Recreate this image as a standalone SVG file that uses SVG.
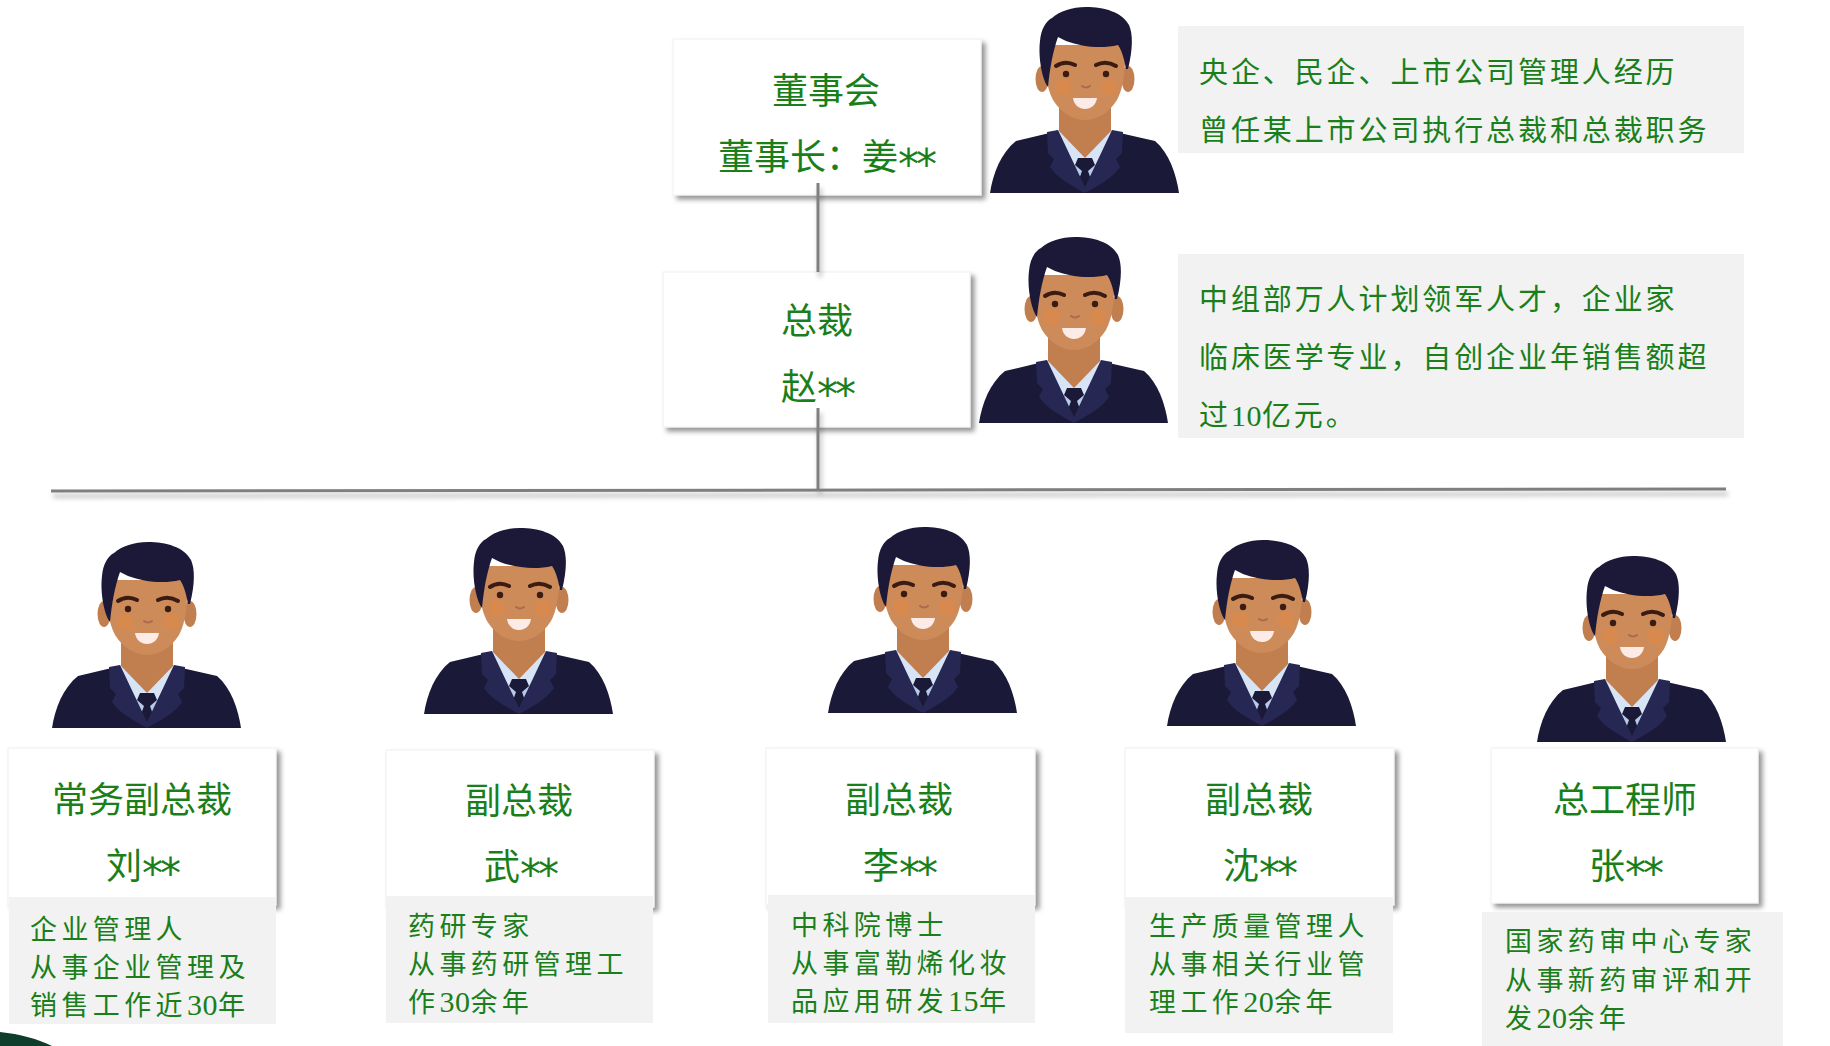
<svg xmlns="http://www.w3.org/2000/svg" xmlns:xlink="http://www.w3.org/1999/xlink" width="1830" height="1046" viewBox="0 0 1830 1046">
  <style>
    .card { fill: #ffffff; stroke: #f0f0f0; stroke-width: 1; filter: url(#cardShadow); }
    .note { fill: #f2f2f2; }
    .txt { font-family: 'Liberation Serif', 'Noto Sans CJK SC', serif; fill: #1a7f1a; }
    .title { font-size: 36px; text-anchor: middle; }
    .star { font-family: 'DejaVu Sans', sans-serif; font-size: 42px; letter-spacing: -3px; }
    .desc { font-size: 29px; letter-spacing: 2.9px; }
    .body { font-size: 27px; letter-spacing: 4.4px; }
    .num { font-size: 30px; letter-spacing: 0.5px; }
    .link { stroke: #7f7f7f; stroke-width: 3; fill: none; }
  </style>
  <defs>
    <filter id="cardShadow" x="-10%" y="-10%" width="125%" height="130%">
      <feDropShadow dx="4" dy="4" stdDeviation="2.5" flood-color="#000000" flood-opacity="0.42"/>
    </filter>
    <filter id="lineShadow" x="-5%" y="-5%" width="110%" height="110%">
      <feDropShadow dx="2" dy="5" stdDeviation="2.5" flood-color="#000000" flood-opacity="0.3"/>
    </filter>
    <!-- cartoon portrait of a man in a suit -->
    <symbol id="person" viewBox="0 0 190 186">
      <path fill="#1b1938" d="M0,186 C3,166 11,146 26,134 L68,124 L121,124 L165,134 C179,146 186,166 189,186 Z"/>
      <path fill="#d7e4f6" d="M66,123 L124,123 L95,182 Z"/>
      <path fill="#b7cae8" d="M83,158 L107,158 L95,182 Z"/>
      <path fill="#c17e4e" d="M69,86 L121,86 L121,124 L95,151 L69,124 Z"/>
      <path fill="#1b1938" d="M88,151 L102,151 L105,158 L98,164 L103,178 L95,186 L87,178 L92,164 L85,158 Z"/>
      <path fill="#262853" d="M57,125 L68,123 L95,180 L95,186 C84,180 70,172 64,165 L60,160 L64,152 L58,146 Z"/>
      <path fill="#262853" d="M133,125 L122,123 L95,180 L95,186 C106,180 120,172 126,165 L130,160 L126,152 L132,146 Z"/>
      <ellipse cx="52" cy="72" rx="6.5" ry="13" fill="#c17e4e"/>
      <ellipse cx="138" cy="72" rx="6.5" ry="13" fill="#c17e4e"/>
      <path fill="#cd8b5a" d="M55,38 C54,60 56,80 63,93 C71,106 83,113 95,113 C107,113 119,106 127,93 C134,80 136,60 135,38 Z"/>
      <path fill="#1b1838" d="M58,80 C52,72 48,50 50,34 C51,22 56,14 62,11 C70,4 82,0 96,0 C114,0 132,5 139,18 C143,27 143,42 138,62 L136,62 C134,50 131,42 128,38 C112,42 92,40 76,34 L68,30 C63,44 60,60 58,80 Z"/>
      <path d="M66,59 Q75,53 85,58 M106,58 Q116,53 126,59" stroke="#3a1c12" stroke-width="4" stroke-linecap="round" fill="none"/>
      <circle cx="76" cy="67" r="3.2" fill="#3a1c12"/>
      <circle cx="116" cy="67" r="3.2" fill="#3a1c12"/>
      <circle cx="73" cy="80" r="8.5" fill="#d9884c" opacity="0.85"/>
      <circle cx="119" cy="80" r="8.5" fill="#d9884c" opacity="0.85"/>
      <path d="M92,79 Q96,82 100,79" stroke="#a86a4c" stroke-width="2" fill="none" stroke-linecap="round"/>
      <path fill="#fcebe6" d="M83,91 L107,91 C106,98 101,102 95,102 C89,102 84,98 83,91 Z"/>
    </symbol>
  </defs>

  <rect width="1830" height="1046" fill="#ffffff"/>

  <!-- corner decoration -->
  <path d="M0,1032 C20,1034 38,1039 52,1046 L0,1046 Z" fill="#0e3d2b"/>

  <!-- board of directors -->
  <g id="board">
    <rect class="card" x="673" y="39" width="308" height="156"/>
    <text class="txt title" x="826" y="104">董事会</text>
    <text class="txt title" x="826" y="170">董事长：姜<tspan class="star" dy="9">**</tspan></text>
    <use href="#person" x="990" y="7" width="190" height="186"/>
    <rect class="note" x="1178" y="26" width="566" height="127"/>
    <text class="txt desc" x="1199" y="83">央企、民企、上市公司管理人经历</text>
    <text class="txt desc" x="1199" y="141">曾任某上市公司执行总裁和总裁职务</text>
  </g>

  <!-- president -->
  <g id="president">
    <rect class="card" x="663" y="272" width="307" height="155"/>
    <text class="txt title" x="817" y="334">总裁</text>
    <text class="txt title" x="817" y="400">赵<tspan class="star" dy="9">**</tspan></text>
    <use href="#person" x="979" y="237" width="190" height="186"/>
    <rect class="note" x="1178" y="254" width="566" height="184"/>
    <text class="txt desc" x="1199" y="310">中组部万人计划领军人才，企业家</text>
    <text class="txt desc" x="1199" y="368">临床医学专业，自创企业年销售额超</text>
    <text class="txt desc" x="1199" y="426">过<tspan class="num">10</tspan>亿元。</text>
  </g>

  <!-- executive vice president -->
  <g id="evp-liu">
    <use href="#person" x="52" y="542" width="190" height="186"/>
    <rect class="card" x="8" y="748" width="268" height="157"/>
    <rect class="note" x="9" y="897" width="267" height="127"/>
    <text class="txt title" x="142" y="813">常务副总裁</text>
    <text class="txt title" x="142" y="879">刘<tspan class="star" dy="9">**</tspan></text>
    <text class="txt body" x="30" y="939">企业管理人</text>
    <text class="txt body" x="30" y="977">从事企业管理及</text>
    <text class="txt body" x="30" y="1015">销售工作近<tspan class="num">30</tspan>年</text>
  </g>

  <!-- vice president (research) -->
  <g id="vp-wu">
    <use href="#person" x="424" y="528" width="190" height="186"/>
    <rect class="card" x="386" y="750" width="268" height="157"/>
    <rect class="note" x="386" y="896" width="267" height="127"/>
    <text class="txt title" x="519" y="814">副总裁</text>
    <text class="txt title" x="520" y="880">武<tspan class="star" dy="9">**</tspan></text>
    <text class="txt body" x="408" y="936">药研专家</text>
    <text class="txt body" x="408" y="974">从事药研管理工</text>
    <text class="txt body" x="408" y="1012">作<tspan class="num">30</tspan>余年</text>
  </g>

  <!-- vice president (applications) -->
  <g id="vp-li">
    <use href="#person" x="828" y="527" width="190" height="186"/>
    <rect class="card" x="766" y="748" width="269" height="157"/>
    <rect class="note" x="768" y="895" width="267" height="128"/>
    <text class="txt title" x="899" y="813">副总裁</text>
    <text class="txt title" x="899" y="879">李<tspan class="star" dy="9">**</tspan></text>
    <text class="txt body" x="791" y="935">中科院博士</text>
    <text class="txt body" x="791" y="973">从事富勒烯化妆</text>
    <text class="txt body" x="791" y="1011">品应用研发<tspan class="num">15</tspan>年</text>
  </g>

  <!-- vice president (production) -->
  <g id="vp-shen">
    <use href="#person" x="1167" y="540" width="190" height="186"/>
    <rect class="card" x="1125" y="748" width="269" height="157"/>
    <rect class="note" x="1125" y="897" width="268" height="136"/>
    <text class="txt title" x="1259" y="813">副总裁</text>
    <text class="txt title" x="1259" y="879">沈<tspan class="star" dy="9">**</tspan></text>
    <text class="txt body" x="1149" y="936">生产质量管理人</text>
    <text class="txt body" x="1149" y="974">从事相关行业管</text>
    <text class="txt body" x="1149" y="1012">理工作<tspan class="num">20</tspan>余年</text>
  </g>

  <!-- chief engineer -->
  <g id="chief-engineer">
    <use href="#person" x="1537" y="556" width="190" height="186"/>
    <rect class="card" x="1491" y="748" width="267" height="155"/>
    <rect class="note" x="1482" y="912" width="301" height="140"/>
    <text class="txt title" x="1625" y="813">总工程师</text>
    <text class="txt title" x="1625" y="879">张<tspan class="star" dy="9">**</tspan></text>
    <text class="txt body" x="1505" y="951">国家药审中心专家</text>
    <text class="txt body" x="1505" y="990">从事新药审评和开</text>
    <text class="txt body" x="1505" y="1028">发<tspan class="num">20</tspan>余年</text>
  </g>

  <!-- connectors -->
  <g id="connectors" filter="url(#lineShadow)">
    <line class="link" x1="818" y1="183" x2="818" y2="272"/>
    <line class="link" x1="818" y1="408" x2="818" y2="490"/>
    <line class="link" x1="51" y1="491" x2="1726" y2="489"/>
  </g>
</svg>
